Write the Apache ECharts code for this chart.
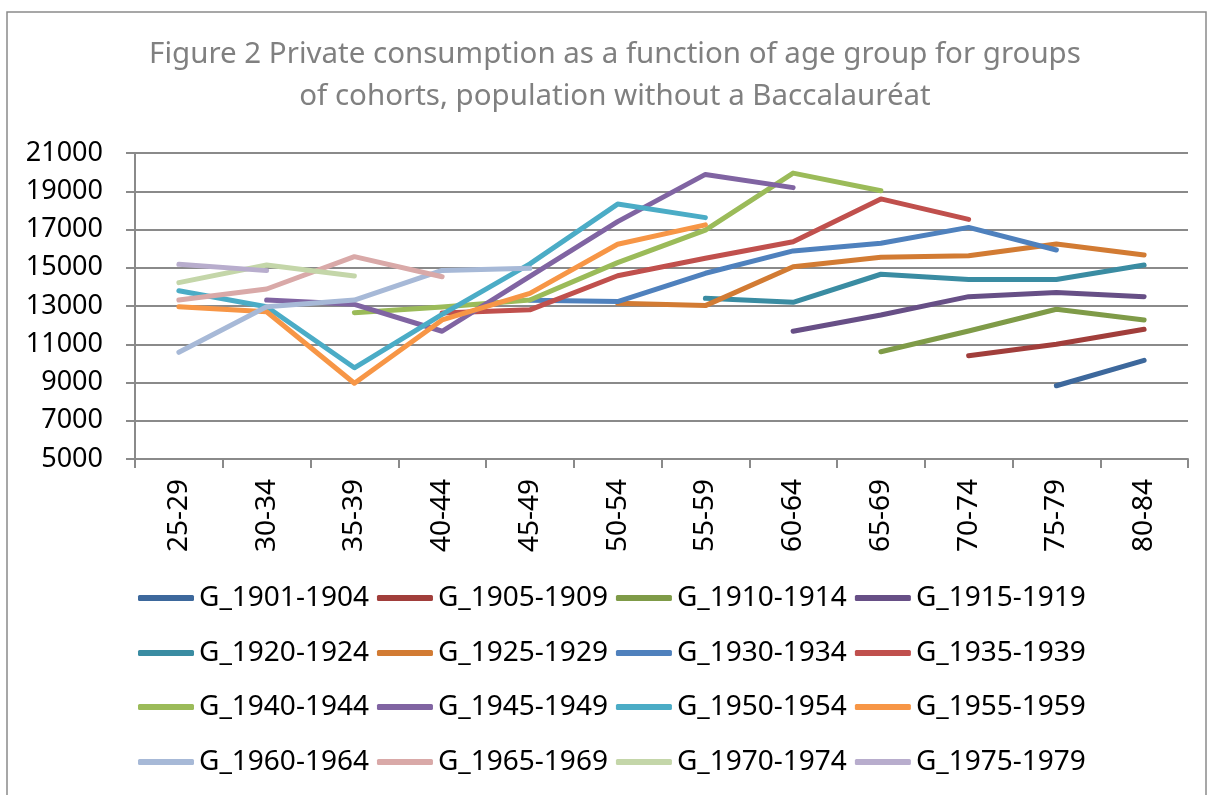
<!DOCTYPE html>
<html>
<head>
<meta charset="utf-8">
<script src="https://cdn.jsdelivr.net/npm/echarts@6/dist/echarts.min.js"></script>
<style>
  html, body { margin: 0; padding: 0; background: #fff; }
  #chart { width: 1213px; height: 795px; }
</style>
</head>
<body>
<div id="chart"></div>
<script>
// age groups on the x axis
var ageGroups = ['25-29', '30-34', '35-39', '40-44', '45-49', '50-54', '55-59', '60-64', '65-69', '70-74', '75-79', '80-84'];
var yTicks = [5000, 21000, 2000]; // min, max, step

// one array per cohort group, null where the group has no value
var g1901 = [null, null, null, null, null, null, null, null, null, null, 8830, 10160];
var g1905 = [null, null, null, null, null, null, null, null, null, 10400, 11000, 11780];
var g1910 = [null, null, null, null, null, null, null, null, 10610, 11690, 12830, 12270];
var g1915 = [null, null, null, null, null, null, null, 11680, 12530, 13490, 13700, 13490];
var g1920 = [null, null, null, null, null, null, 13400, 13190, 14660, 14390, 14390, 15140];
var g1925 = [null, null, null, null, null, 13150, 13020, 15050, 15550, 15630, 16240, 15670];
var g1930 = [null, null, null, null, 13300, 13230, 14710, 15880, 16280, 17110, 15930, null];
var g1935 = [null, null, null, 12640, 12800, 14580, 15500, 16360, 18600, 17530, null, null];
var g1940 = [null, null, 12650, 12950, 13310, 15270, 16970, 19950, 19030, null, null, null];
var g1945 = [null, 13310, 13090, 11680, 14550, 17410, 19880, 19190, null, null, null, null];
var g1950 = [13800, 12960, 9770, 12560, 15200, 18330, 17620, null, null, null, null, null];
var g1955 = [12960, 12700, 8960, 12270, 13660, 16230, 17240, null, null, null, null, null];
var g1960 = [10580, 12960, 13310, 14860, 14970, null, null, null, null, null, null, null];
var g1965 = [13310, 13890, 15580, 14530, null, null, null, null, null, null, null, null];
var g1970 = [14220, 15140, 14570, null, null, null, null, null, null, null, null, null];
var g1975 = [15180, 14850, null, null, null, null, null, null, null, null, null, null];

var names = ['G_1901-1904', 'G_1905-1909', 'G_1910-1914', 'G_1915-1919',
             'G_1920-1924', 'G_1925-1929', 'G_1930-1934', 'G_1935-1939',
             'G_1940-1944', 'G_1945-1949', 'G_1950-1954', 'G_1955-1959',
             'G_1960-1964', 'G_1965-1969', 'G_1970-1974', 'G_1975-1979'];
var values = [g1901, g1905, g1910, g1915, g1920, g1925, g1930, g1935,
              g1940, g1945, g1950, g1955, g1960, g1965, g1970, g1975];

var colors = ['#3D689C', '#A13E3B', '#7F9B48', '#674F86',
              '#3A8CA2', '#D27B33', '#4F81BD', '#C0504D',
              '#9BBB59', '#8064A2', '#4BACC6', '#F79646',
              '#A7B9D7', '#D9A9A8', '#C4D6A9', '#B8ADCD'];

var font = 'Noto Sans';
var myChart = echarts.init(document.getElementById('chart'));

var series = [];
names.forEach(function (name, i) {
    series.push({
        name: name,
        type: 'line',
        data: values[i],
        showSymbol: false,
        symbol: 'none',
        connectNulls: false,
        lineStyle: { width: 5, cap: 'round', join: 'round' }
    });
});

// legend: 4 rows of 4 items
var rowCenters = [598, 653, 707, 762];
var legends = rowCenters.map(function (c, r) {
    return {
        left: 138,
        top: c - 16,
        padding: 0,
        itemWidth: 56,
        itemHeight: 6,
        itemGap: 8,
        icon: 'roundRect',
        data: names.slice(r * 4, r * 4 + 4),
        selectedMode: false,
        textStyle: { fontFamily: font, fontSize: 28, color: '#000', lineHeight: 32 }
    };
});

var option = {
    color: colors,
    animation: false,
    title: {
        text: 'Figure 2 Private consumption as a function of age group for groups\nof cohorts, population without a Baccalauréat',
        left: 610,
        textAlign: 'center',
        top: 29,
        textStyle: { fontFamily: font, fontSize: 29.5, fontWeight: 'normal', color: '#808080', lineHeight: 42 }
    },
    legend: legends,
    grid: { left: 135, right: 25, top: 153, bottom: 336 },
    xAxis: {
        type: 'category',
        data: ageGroups,
        boundaryGap: true,
        axisLine: { lineStyle: { color: '#8a8a8a', width: 2 } },
        axisTick: { show: true, length: 9, lineStyle: { color: '#8a8a8a', width: 2 } },
        axisLabel: { rotate: 90, margin: 20, fontFamily: font, fontSize: 28, color: '#000' }
    },
    yAxis: {
        type: 'value',
        min: yTicks[0],
        max: yTicks[1],
        interval: yTicks[2],
        axisLine: { show: true, lineStyle: { color: '#8a8a8a', width: 2 } },
        axisTick: { show: true, length: 9, lineStyle: { color: '#8a8a8a', width: 2 } },
        splitLine: { lineStyle: { color: '#8a8a8a', width: 2 } },
        axisLabel: {
            margin: 32, fontFamily: font, fontSize: 27, color: '#000',
            formatter: function (v) { return String(v); }
        }
    },
    graphic: [{
        type: 'rect',
        shape: { x: 7, y: 12, width: 1199, height: 800 },
        style: { fill: 'none', stroke: '#8a8a8a', lineWidth: 1.5 },
        silent: true
    }],
    series: series
};
myChart.setOption(option);
</script>
</body>
</html>
